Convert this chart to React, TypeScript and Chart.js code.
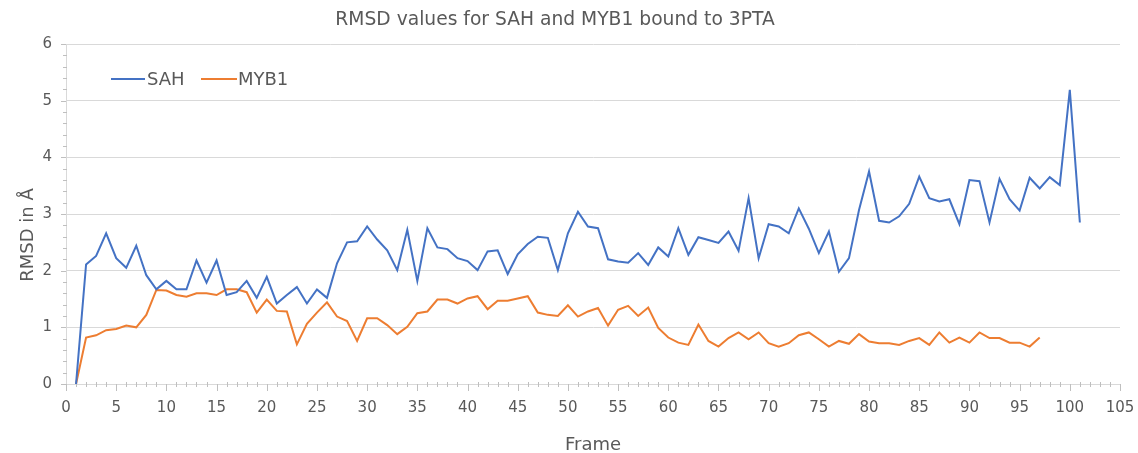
import { useEffect, useRef } from "react";
import { Chart, registerables } from "chart.js";

Chart.register(...registerables);

const chartTitle = "RMSD values for SAH and MYB1 bound to 3PTA";
const xAxisTitle = "Frame";
const yAxisTitle = "RMSD in Å";
const seriesNames = ["SAH", "MYB1"];

const frames = [
  1, 2, 3, 4, 5, 6, 7, 8, 9, 10, 11, 12, 13, 14, 15, 16, 17, 18, 19, 20,
  21, 22, 23, 24, 25, 26, 27, 28, 29, 30, 31, 32, 33, 34, 35, 36, 37, 38, 39, 40,
  41, 42, 43, 44, 45, 46, 47, 48, 49, 50, 51, 52, 53, 54, 55, 56, 57, 58, 59, 60,
  61, 62, 63, 64, 65, 66, 67, 68, 69, 70, 71, 72, 73, 74, 75, 76, 77, 78, 79, 80,
  81, 82, 83, 84, 85, 86, 87, 88, 89, 90, 91, 92, 93, 94, 95, 96, 97, 98, 99, 100,
  101,
];

const sahValues = [
  0, 2.11, 2.26, 2.66, 2.22, 2.05, 2.44, 1.92, 1.67, 1.82,
  1.67, 1.67, 2.18, 1.79, 2.18, 1.57, 1.62, 1.82, 1.52, 1.89,
  1.42, 1.57, 1.71, 1.42, 1.67, 1.52, 2.13, 2.5, 2.52, 2.78,
  2.55, 2.36, 2.01, 2.72, 1.82, 2.75, 2.41, 2.38, 2.22, 2.17,
  2.01, 2.34, 2.36, 1.94, 2.29, 2.47, 2.6, 2.58, 2.01, 2.66,
  3.04, 2.78, 2.75, 2.2, 2.16, 2.14, 2.31, 2.1, 2.41, 2.25,
  2.75, 2.28, 2.59, 2.54, 2.49, 2.69, 2.35, 3.28, 2.22, 2.82,
  2.78, 2.66, 3.1, 2.74, 2.31, 2.69, 1.98, 2.22, 3.07, 3.75,
  2.88, 2.85, 2.96, 3.18, 3.66, 3.28, 3.22, 3.26, 2.82, 3.6,
  3.58, 2.85, 3.62, 3.26, 3.06, 3.64, 3.45, 3.65, 3.51, 5.19,
  2.85,
];

const myb1Values = [
  0, 0.82, 0.86, 0.95, 0.97, 1.03, 1.0, 1.22, 1.66, 1.65,
  1.57, 1.54, 1.6, 1.6, 1.57, 1.67, 1.67, 1.62, 1.26, 1.49,
  1.29, 1.28, 0.7, 1.06, 1.26, 1.44, 1.19, 1.11, 0.76, 1.16,
  1.16, 1.04, 0.88, 1.01, 1.25, 1.28, 1.49, 1.49, 1.42, 1.51,
  1.55, 1.32, 1.47, 1.47, 1.51, 1.55, 1.26, 1.22, 1.2, 1.39,
  1.19, 1.28, 1.34, 1.03, 1.31, 1.38, 1.2, 1.35, 0.99, 0.82,
  0.73, 0.69, 1.05, 0.76, 0.66, 0.81, 0.91, 0.79, 0.91, 0.72,
  0.66, 0.72, 0.86, 0.91, 0.79, 0.66, 0.76, 0.71, 0.88, 0.75,
  0.72, 0.72, 0.69, 0.76, 0.81, 0.69, 0.91, 0.73, 0.82, 0.73,
  0.91, 0.81, 0.81, 0.73, 0.73, 0.66, 0.82,
];

const xMin = 0;
const xMax = 105;
const xMajorStep = 5;
const xMinorStep = 1;
const yMin = 0;
const yMax = 6;
const yMajorStep = 1;
const yMinorStep = 0.2;

const seriesColors = ["#4472C4", "#ED7D31"];
const FONT = '"DejaVu Sans", Verdana, sans-serif';
const TEXT = "#595959";
const GRID = "#d9d9d9";
const TICK = "#bfbfbf";

const decorPlugin = {
  id: "decor",
  beforeDatasetsDraw(chart: any) {
    const ctx = chart.ctx;
    const xs = chart.scales.x;
    const ys = chart.scales.y;
    const area = chart.chartArea;
    ctx.save();
    ctx.strokeStyle = TICK;
    ctx.lineWidth = 1;
    ctx.beginPath();
    for (let v = xMin; v <= xMax + 1e-9; v += xMinorStep) {
      const px = Math.round(xs.getPixelForValue(v)) + 0.5;
      const major = Math.abs(v / xMajorStep - Math.round(v / xMajorStep)) < 1e-6;
      if (major) {
        ctx.moveTo(px, area.bottom);
        ctx.lineTo(px, area.bottom + 7);
      } else {
        ctx.moveTo(px, area.bottom - 2);
        ctx.lineTo(px, area.bottom + 3);
      }
    }
    for (let v = yMin; v <= yMax + 1e-9; v += yMinorStep) {
      const py = Math.round(ys.getPixelForValue(v)) + 0.5;
      const major = Math.abs(v / yMajorStep - Math.round(v / yMajorStep)) < 1e-6;
      if (major) {
        ctx.moveTo(area.left - 5, py);
        ctx.lineTo(area.left, py);
      } else {
        ctx.moveTo(area.left - 3, py);
        ctx.lineTo(area.left + 1, py);
      }
    }
    ctx.stroke();
    ctx.restore();
  },
  afterDraw(chart: any) {
    const ctx = chart.ctx;
    const area = chart.chartArea;
    ctx.save();
    ctx.fillStyle = TEXT;
    ctx.textAlign = "center";
    ctx.textBaseline = "alphabetic";
    ctx.font = `18.7px ${FONT}`;
    ctx.fillText(chartTitle, 555, 25);
    ctx.font = `18px ${FONT}`;
    ctx.fillText(xAxisTitle, (area.left + area.right) / 2, 450);
    ctx.save();
    ctx.translate(33, 235);
    ctx.rotate(-Math.PI / 2);
    ctx.fillText(yAxisTitle, 0, 0);
    ctx.restore();
    const items = [
      { x1: 111, x2: 145, tx: 147 },
      { x1: 201, x2: 237, tx: 238 },
    ];
    ctx.textAlign = "left";
    ctx.textBaseline = "middle";
    items.forEach((it, i) => {
      ctx.strokeStyle = seriesColors[i];
      ctx.lineWidth = 2;
      ctx.beginPath();
      ctx.moveTo(it.x1, 79);
      ctx.lineTo(it.x2, 79);
      ctx.stroke();
      ctx.fillStyle = TEXT;
      ctx.fillText(seriesNames[i], it.tx, 80);
    });
    ctx.restore();
  },
};

export default function App() {
  const canvasRef = useRef<HTMLCanvasElement | null>(null);

  useEffect(() => {
    const canvas = canvasRef.current;
    if (!canvas) return;
    const sahPoints = sahValues.map((v, i) => ({ x: frames[i], y: v }));
    const mybPoints = myb1Values.map((v, i) => ({ x: frames[i], y: v }));
    const chart = new Chart(canvas, {
      type: "line",
      data: {
        datasets: [
          {
            label: seriesNames[0],
            data: sahPoints,
            borderColor: seriesColors[0],
            backgroundColor: seriesColors[0],
            borderWidth: 2,
            pointRadius: 0,
            tension: 0,
          },
          {
            label: seriesNames[1],
            data: mybPoints,
            borderColor: seriesColors[1],
            backgroundColor: seriesColors[1],
            borderWidth: 2,
            pointRadius: 0,
            tension: 0,
          },
        ],
      },
      options: {
        animation: false,
        responsive: false,
        devicePixelRatio: 1,
        layout: { padding: { top: 44, right: 18, left: 0, bottom: 0 } },
        plugins: {
          legend: { display: false },
          title: { display: false },
          tooltip: { enabled: false },
        },
        scales: {
          x: {
            type: "linear",
            min: xMin,
            max: xMax,
            afterFit: (s: any) => {
              s.height = 69;
              s.paddingLeft = 0;
              s.paddingRight = 0;
            },
            ticks: {
              stepSize: xMajorStep,
              padding: 15,
              color: TEXT,
              font: { family: FONT, size: 15 },
              maxRotation: 0,
              autoSkip: false,
            },
            grid: { drawOnChartArea: false, drawTicks: false },
            border: { display: true, color: GRID, width: 1 },
          },
          y: {
            type: "linear",
            min: yMin,
            max: yMax,
            afterFit: (s: any) => {
              s.width = 66;
              s.paddingTop = 0;
              s.paddingBottom = 0;
            },
            ticks: {
              stepSize: yMajorStep,
              padding: 14,
              color: TEXT,
              font: { family: FONT, size: 15 },
            },
            grid: { color: GRID, lineWidth: 1, drawTicks: false },
            border: { display: true, color: GRID, width: 1 },
          },
        },
      },
      plugins: [decorPlugin],
    });
    return () => chart.destroy();
  }, []);

  return (
    <div style={{ position: "fixed", left: 0, top: 0, width: 1138, height: 453, background: "#ffffff" }}>
      <canvas ref={canvasRef} width={1138} height={453} style={{ width: 1138, height: 453, display: "block" }} />
    </div>
  );
}
